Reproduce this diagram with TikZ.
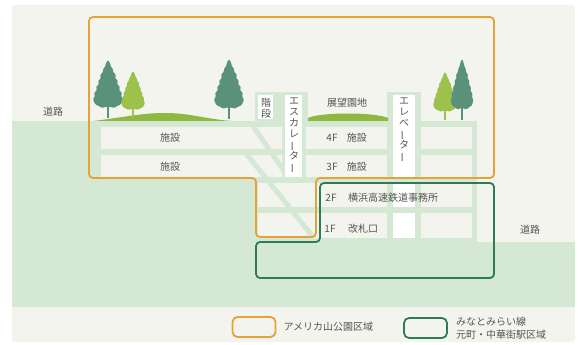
\documentclass[tikz,border=0pt]{standalone}
\usepackage{fontspec}
\newfontfamily\jp{Noto Sans CJK JP}
\usetikzlibrary{positioning}

\definecolor{paper}{HTML}{F4F4EE}
\definecolor{ground}{HTML}{D4E8D4}
\definecolor{parkline}{HTML}{E6A23A}
\definecolor{railline}{HTML}{2E7B5A}
\definecolor{treedark}{HTML}{5A917A}
\definecolor{treelight}{HTML}{9DC24B}
\definecolor{grass}{HTML}{8DB941}
\definecolor{labelgray}{HTML}{555555}

% long vowel mark for vertical text
\newcommand\chouon{\rotatebox[origin=c]{90}{ー}}

\tikzset{
  lbl/.style={font=\jp\fontsize{10}{11}\selectfont, text=labelgray, inner sep=0pt},
  vlbl/.style={lbl, align=center},
  room/.style={fill=paper},
  shaft/.style={fill=white},
  flight/.style={draw=ground, line width=5pt},
  area/.style={rounded corners=4pt, line width=1.8pt},
  key/.style={draw=#1, line width=1.8pt, rounded corners=5pt, minimum width=43pt, minimum height=20pt, inner sep=0pt},
  pics/tree/.style={code={
    \fill[#1, rounded corners=1pt] (0,-58) -- (2,-55) -- (3,-51) -- (5,-49) -- (5,-46) -- (8,-43)
      -- (7,-40) -- (10,-37) -- (9,-34) -- (12,-31) -- (11,-28) -- (14,-25) -- (13,-22)
      -- (15,-19) -- (14,-16) -- (12,-13) -- (9,-12) -- (6,-10) -- (3,-11)
      -- (-3,-11) -- (-6,-10) -- (-9,-12) -- (-12,-13) -- (-14,-16) -- (-15,-19)
      -- (-13,-22) -- (-14,-25) -- (-11,-28) -- (-12,-31) -- (-9,-34) -- (-10,-37)
      -- (-7,-40) -- (-8,-43) -- (-5,-46) -- (-5,-49) -- (-3,-51) -- (-2,-55) -- cycle;
    \draw[#1, line width=1.6pt] (0,0) -- (0,-14);
  }}
}

\begin{document}
\begin{tikzpicture}[x=1pt, y=-1pt]
  \useasboundingbox (0,0) rectangle (579,345);
  \fill[white] (0,0) rectangle (579,345);
  \fill[paper, rounded corners=3pt] (12,5) rectangle (575,342);

  % ground and building walls
  \fill[ground] (12,121) rectangle (477,307);
  \fill[ground] (477,242) rectangle (575,307);
  \fill[ground] (255,92) rectangle (308,122);
  \fill[ground] (387,92) rectangle (421,122);

  % floors 4F - 1F
  \fill[room] (101,127) rectangle (282,149);
  \fill[room] (306,127) rectangle (387,149);
  \fill[room] (101,155) rectangle (282,177);
  \fill[room] (306,155) rectangle (387,177);
  \fill[room] (258,183) rectangle (387,207);
  \fill[room] (258,213) rectangle (387,238);
  \foreach \top/\bot in {127/149, 155/177, 183/207, 213/238}
    \fill[room] (421,\top) rectangle (472,\bot);

  % stairs
  \draw[flight] (251,123) -- (290,180);
  \draw[flight] (245,152) -- (314,238);

  % stair, escalator and elevator shafts
  \fill[shaft] (258,95) rectangle (273,119);
  \fill[shaft] (285,95) rectangle (302,177);
  \fill[shaft] (393,95) rectangle (415,177);
  \fill[shaft] (393,183) rectangle (415,207);
  \fill[shaft] (393,213) rectangle (415,238);

  % park on the roof
  \fill[grass] (93,121) .. controls (120,118) and (140,113) .. (165,113)
    .. controls (190,113) and (205,119) .. (232,121) -- cycle;
  \fill[grass] (308,121) -- (308,118) .. controls (320,112) and (375,112) .. (388,118) -- (388,121) -- cycle;
  \pic at (108,118) {tree=treedark};
  \pic[xscale=.8, yscale=.81] at (133,118) {tree=treelight};
  \pic[yscale=1.03] at (229,119) {tree=treedark};
  \pic[xscale=.8, yscale=.83] at (445,120) {tree=treelight};
  \pic[xscale=.76, yscale=1.05] at (462,120) {tree=treedark};

  % zone outlines
  \draw[area, parkline] (89,17) -- (494,17) -- (494,178) -- (316,178) -- (316,237)
    -- (256,237) -- (256,178) -- (89,178) -- cycle;
  \draw[area, railline] (320,183) -- (494,183) -- (494,278) -- (256,278)
    -- (256,242) -- (320,242) -- cycle;

  % labels
  \node[lbl] (roadW) at (53,112) {道路};
  \node[lbl] (roadE) at (530,230) {道路};
  \node[lbl] (fac4) at (170,138) {施設};
  \node[lbl] (fac3) at (170,167) {施設};
  \node[vlbl] (stairs) at (266,108) {階\\段};
  \node[vlbl] (escal) at (294,136) {エ\\ス\\カ\\レ\\\chouon\\タ\\\chouon};
  \node[vlbl] (elev) at (404,130) {エ\\レ\\ベ\\\chouon\\タ\\\chouon};
  \node[lbl] (deck) at (347,103) {展望園地};
  \node[lbl] (fl4) at (332,138) {4F};
  \node[lbl, right=9pt of fl4] (fl4room) {施設};
  \node[lbl] (fl3) at (332,167) {3F};
  \node[lbl, right=9pt of fl3] (fl3room) {施設};
  \node[lbl] (fl2) at (331,198) {2F};
  \node[lbl, anchor=west] (fl2room) at (348,198) {横浜高速鉄道事務所};
  \node[lbl] (fl1) at (330,229) {1F};
  \node[lbl, anchor=west] (fl1room) at (348,229) {改札口};

  % legend
  \node[key=parkline] (parkKey) at (254,327) {};
  \node[lbl, right=7pt of parkKey] (parkTxt) {アメリカ山公園区域};
  \node[key=railline] (railKey) at (425.5,328) {};
  \node[lbl, align=left, font=\jp\fontsize{10}{13}\selectfont, right=8pt of railKey] (railTxt)
    {みなとみらい線\\元町・中華街駅区域};
\end{tikzpicture}
\end{document}
